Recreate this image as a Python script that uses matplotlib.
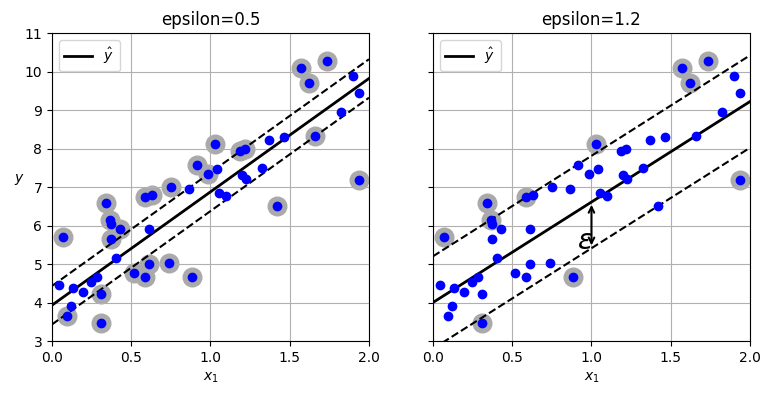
import numpy as np
import matplotlib
matplotlib.use("Agg")
import matplotlib.pyplot as plt

# points (same data in both panels)
x1 = [0.043, 0.068, 0.096, 0.121, 0.131, 0.194, 0.247, 0.283, 0.312, 0.312,
      0.342, 0.365, 0.371, 0.371, 0.428, 0.405, 0.516, 0.586, 0.586, 0.628,
      0.611, 0.611, 0.752, 0.737, 0.866, 0.882, 0.914, 0.983, 1.027, 1.040,
      1.052, 1.099, 1.187, 1.217, 1.196, 1.225, 1.322, 1.368, 1.418, 1.465,
      1.570, 1.620, 1.662, 1.734, 1.822, 1.902, 1.940, 1.936]
y = [4.45, 5.69, 3.65, 3.91, 4.37, 4.28, 4.52, 4.65, 4.21, 3.46,
     6.58, 6.14, 6.04, 5.64, 5.90, 5.15, 4.76, 4.65, 6.74, 6.79,
     5.92, 4.99, 6.99, 5.02, 6.94, 4.65, 7.56, 7.33, 8.11, 7.46,
     6.85, 6.77, 7.94, 8.00, 7.31, 7.20, 7.49, 8.22, 6.51, 8.29,
     10.08, 9.69, 8.32, 10.27, 8.95, 9.88, 9.43, 7.18]

# support vectors (indices into the arrays above) for each panel
sv_left = [1, 2, 8, 9, 10, 11, 13, 14, 16, 17, 18, 19, 21, 22, 23, 25, 26, 27,
           28, 32, 33, 38, 40, 41, 42, 43, 47]
sv_right = [1, 9, 10, 11, 18, 25, 28, 40, 41, 43, 47]

epsilons = [0.5, 1.2]
intercepts = [3.93, 4.00]
slopes = [2.945, 2.61]
sv_sets = [sv_left, sv_right]

x1 = np.array(x1)
y = np.array(y)

fig = plt.figure(figsize=(7.7, 3.95), dpi=100)
ax_left = fig.add_axes([0.0675, 0.1367, 0.4117, 0.7797])
ax_right = fig.add_axes([0.5623, 0.1367, 0.4117, 0.7797], sharey=ax_left)
axes = [ax_left, ax_right]

xs = np.linspace(0, 2, 100)
for ax, eps, b, w, svs in zip(axes, epsilons, intercepts, slopes, sv_sets):
    y_pred = b + w * xs
    ax.plot(xs, y_pred, "k-", linewidth=2, label=r"$\hat{y}$")
    ax.plot(xs, y_pred + eps, "k--")
    ax.plot(xs, y_pred - eps, "k--")
    ax.scatter(x1[svs], y[svs], s=180, facecolors="#AAA", zorder=-1)
    ax.plot(x1, y, "bo")
    ax.set_xlabel("$x_1$")
    ax.set_title(f"epsilon={eps}")
    ax.legend(loc="upper left")
    ax.axis([0, 2, 3, 11])
    ax.grid(True)

ax_left.set_ylabel("$y$", rotation=0)
plt.setp(ax_right.get_yticklabels(), visible=False)

# epsilon arrow on the right panel
eps_x = 1
eps_y = intercepts[1] + slopes[1] * eps_x
ax_right.annotate("", xy=(eps_x, eps_y), xytext=(eps_x, eps_y - epsilons[1]),
                  arrowprops={"arrowstyle": "<->", "linewidth": 1.5})
ax_right.text(0.91, 5.4, r"$\epsilon$", fontsize=20)

plt.savefig("out.png", dpi=100)
